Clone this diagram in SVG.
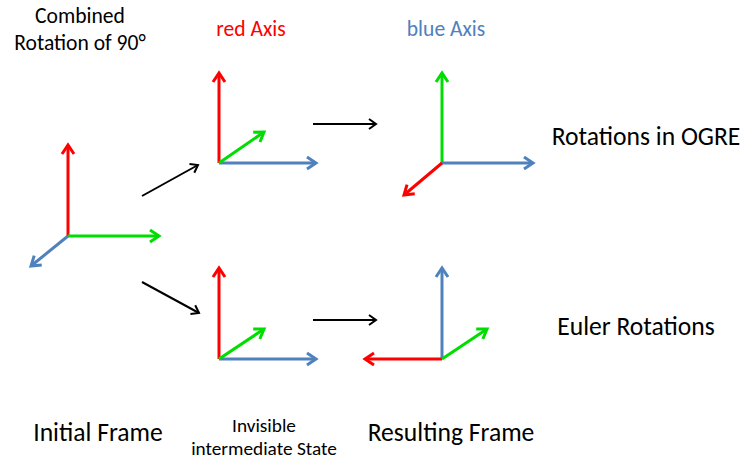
<svg xmlns="http://www.w3.org/2000/svg" width="744" height="462" viewBox="0 0 744 462">
  <style>
    text { font-family: "Carlito", "Open Sans", "Liberation Sans", sans-serif; fill: #000; text-anchor: middle; }
    .ax { fill: none; stroke-width: 3; stroke-linecap: butt; }
    .r { stroke: #ff0000; marker-end: url(#hr); }
    .g { stroke: #00dd00; marker-end: url(#hg); }
    .b { stroke: #4f81bd; marker-end: url(#hb); }
    .k { stroke: #000; stroke-width: 2; fill: none; marker-end: url(#hk); }
    .lbl { font-size: 25.6px; }
    .sm { font-size: 19.3px; }
    .top { font-size: 21.6px; }
  </style>
  <defs>
    <marker id="hr" markerUnits="userSpaceOnUse" viewBox="-12 -8 14 16" markerWidth="14" markerHeight="16" refX="0" refY="0" orient="auto" overflow="visible">
      <path d="M-9,-6 L0,0 L-9,6" fill="none" stroke="#ff0000" stroke-width="3"/>
    </marker>
    <marker id="hg" markerUnits="userSpaceOnUse" viewBox="-12 -8 14 16" markerWidth="14" markerHeight="16" refX="0" refY="0" orient="auto" overflow="visible">
      <path d="M-9,-6 L0,0 L-9,6" fill="none" stroke="#00dd00" stroke-width="3"/>
    </marker>
    <marker id="hb" markerUnits="userSpaceOnUse" viewBox="-12 -8 14 16" markerWidth="14" markerHeight="16" refX="0" refY="0" orient="auto" overflow="visible">
      <path d="M-9,-6 L0,0 L-9,6" fill="none" stroke="#4f81bd" stroke-width="3"/>
    </marker>
    <marker id="hk" markerUnits="userSpaceOnUse" viewBox="-10 -6 12 12" markerWidth="12" markerHeight="12" refX="0" refY="0" orient="auto" overflow="visible">
      <path d="M-7,-5 L0,0 L-7,5" fill="none" stroke="#000" stroke-width="2"/>
    </marker>
  </defs>
  <rect width="744" height="462" fill="#fff"/>

  <!-- initial frame -->
  <g id="initial-frame">
    <line class="ax r" x1="68" y1="236" x2="68" y2="145"/>
    <line class="ax g" x1="68" y1="236" x2="159" y2="236"/>
    <line class="ax b" x1="68" y1="236" x2="31" y2="266"/>
  </g>

  <!-- intermediate state, upper path -->
  <g id="ogre-intermediate">
    <line class="ax r" x1="219" y1="163" x2="219" y2="73"/>
    <line class="ax b" x1="219" y1="163" x2="316" y2="163"/>
    <line class="ax g" x1="219" y1="163" x2="264" y2="132"/>
  </g>

  <!-- resulting frame, OGRE -->
  <g id="ogre-result">
    <line class="ax g" x1="442" y1="163" x2="442" y2="73"/>
    <line class="ax b" x1="442" y1="163" x2="533" y2="163"/>
    <line class="ax r" x1="442" y1="163" x2="404" y2="195"/>
  </g>

  <!-- intermediate state, lower path -->
  <g id="euler-intermediate">
    <line class="ax r" x1="219" y1="359" x2="219" y2="268"/>
    <line class="ax b" x1="219" y1="359" x2="316" y2="359"/>
    <line class="ax g" x1="219" y1="359" x2="264" y2="329"/>
  </g>

  <!-- resulting frame, Euler -->
  <g id="euler-result">
    <line class="ax b" x1="442" y1="359" x2="442" y2="268"/>
    <line class="ax r" x1="442" y1="359" x2="365" y2="359"/>
    <line class="ax g" x1="442" y1="359" x2="487" y2="329"/>
  </g>

  <!-- connectors -->
  <g id="connectors">
    <line class="k" x1="142" y1="196" x2="198" y2="165"/>
    <line class="k" x1="142" y1="282" x2="199" y2="313"/>
    <line class="k" x1="313" y1="124" x2="376" y2="124"/>
    <line class="k" x1="313" y1="320" x2="376" y2="320"/>
  </g>

  <!-- labels -->
  <g id="labels">
    <text class="top" x="80" y="23">Combined</text>
    <text class="top" x="80" y="50">Rotation of 90°</text>
    <text class="top" x="251" y="36" style="fill:#ff0000">red Axis</text>
    <text class="top" x="446" y="36" style="fill:#4f81bd">blue Axis</text>
    <text class="lbl" x="646" y="145">Rotations in OGRE</text>
    <text class="lbl" x="636" y="335">Euler Rotations</text>
    <text class="lbl" x="98" y="441">Initial Frame</text>
    <text class="sm" x="264" y="432">Invisible</text>
    <text class="sm" x="264" y="455">intermediate State</text>
    <text class="lbl" x="451" y="441">Resulting Frame</text>
  </g>
</svg>
